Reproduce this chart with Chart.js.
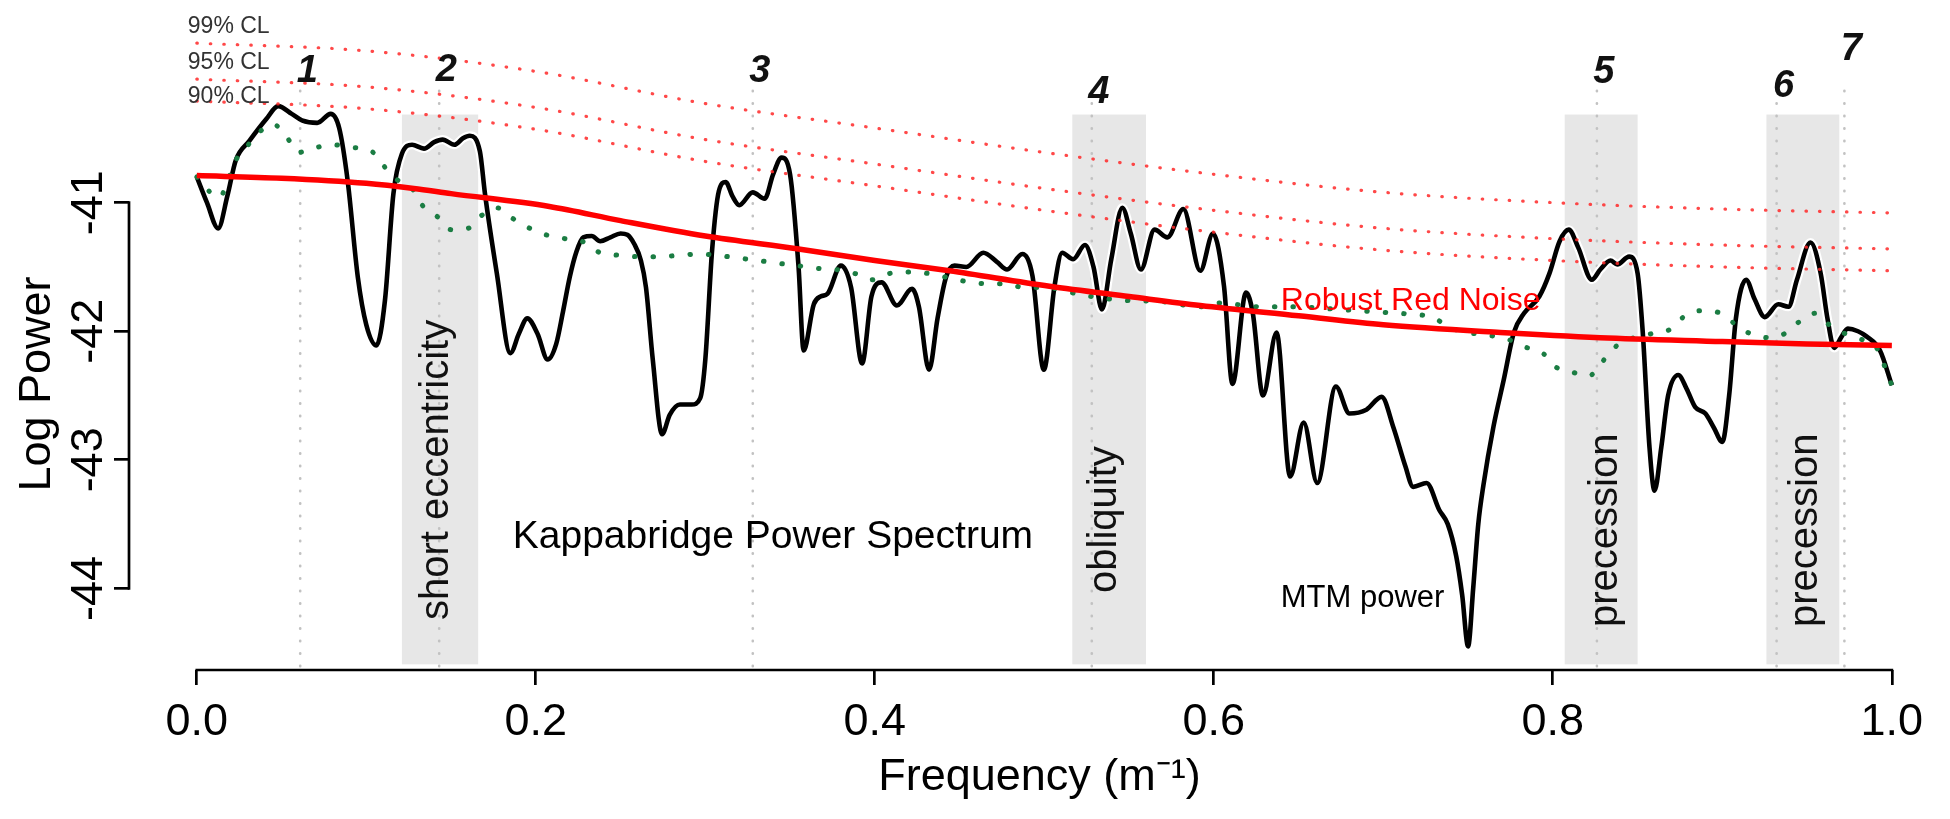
<!DOCTYPE html>
<html>
<head>
<meta charset="utf-8">
<script src="https://cdn.jsdelivr.net/npm/chart.js@4.4.1/dist/chart.umd.min.js"></script>
<style>
  html, body { margin: 0; padding: 0; background: #ffffff; }
  canvas { display: block; }
</style>
</head>
<body>
<canvas id="c" width="1950" height="819"></canvas>
<script>
// ---------------- data ----------------
const mtmFreq = [0, 0.006, 0.0126, 0.018, 0.023, 0.031, 0.041, 0.048, 0.056, 0.062,
  0.071, 0.079, 0.084, 0.089, 0.095, 0.100, 0.106, 0.111, 0.116, 0.121,
  0.127, 0.134, 0.140, 0.145, 0.152, 0.157, 0.161, 0.167, 0.170, 0.177,
  0.185, 0.190, 0.195, 0.201, 0.207, 0.212, 0.216, 0.220, 0.224, 0.228,
  0.233, 0.238, 0.244, 0.250, 0.254, 0.258, 0.262, 0.265, 0.269, 0.2745,
  0.279, 0.285, 0.292, 0.297, 0.300, 0.304, 0.308, 0.312, 0.316, 0.320,
  0.328, 0.335, 0.340, 0.345, 0.350, 0.355, 0.358, 0.364, 0.368, 0.372,
  0.380, 0.386, 0.3925, 0.398, 0.404, 0.413, 0.422, 0.426, 0.432, 0.437,
  0.442, 0.447, 0.454, 0.464, 0.472, 0.478, 0.487, 0.493, 0.4997, 0.506,
  0.5105, 0.517, 0.524, 0.529, 0.534, 0.5395, 0.546, 0.551, 0.557, 0.565,
  0.5726, 0.582, 0.592, 0.5995, 0.606, 0.611, 0.619, 0.623, 0.629, 0.637,
  0.645, 0.653, 0.661, 0.672, 0.680, 0.690, 0.699, 0.706, 0.713, 0.7176,
  0.7255, 0.733, 0.738, 0.743, 0.7465, 0.750, 0.753, 0.756, 0.759, 0.765,
  0.771, 0.777, 0.783, 0.792, 0.798, 0.804, 0.8094, 0.815, 0.823, 0.828,
  0.834, 0.838, 0.845, 0.850, 0.853, 0.857, 0.860, 0.864, 0.868, 0.874,
  0.879, 0.884, 0.890, 0.895, 0.900, 0.904, 0.908, 0.914, 0.919, 0.925,
  0.933, 0.939, 0.944, 0.952, 0.958, 0.962, 0.966, 0.970, 0.974, 0.980,
  0.985, 0.993, 1.000];
const mtmPower = [-40.80, -41.00, -41.20, -40.95, -40.67, -40.52, -40.35, -40.25, -40.31, -40.36,
  -40.38, -40.31, -40.42, -40.83, -41.58, -41.95, -42.11, -41.76, -40.93, -40.62,
  -40.55, -40.58, -40.53, -40.51, -40.55, -40.50, -40.48, -40.60, -40.93, -41.55,
  -42.17, -42.02, -41.90, -42.02, -42.22, -42.10, -41.85, -41.58, -41.38, -41.27,
  -41.26, -41.30, -41.27, -41.24, -41.25, -41.32, -41.45, -41.66, -42.22, -42.80,
  -42.65, -42.57, -42.57, -42.52, -42.22, -41.37, -40.91, -40.84, -40.95, -41.02,
  -40.92, -40.97, -40.78, -40.65, -40.78, -41.50, -42.15, -41.79, -41.73, -41.71,
  -41.49, -41.66, -42.25, -41.73, -41.62, -41.80, -41.67, -41.81, -42.30, -41.90,
  -41.58, -41.49, -41.50, -41.39, -41.46, -41.52, -41.40, -41.57, -42.30, -41.65,
  -41.39, -41.44, -41.33, -41.50, -41.83, -41.44, -41.04, -41.24, -41.52, -41.21,
  -41.27, -41.05, -41.53, -41.24, -41.65, -42.41, -41.70, -41.86, -42.50, -42.01,
  -43.13, -42.71, -43.18, -42.43, -42.64, -42.61, -42.51, -42.75, -43.05, -43.21,
  -43.18, -43.39, -43.50, -43.75, -44.05, -44.45, -44.00, -43.50, -43.20, -42.74,
  -42.38, -42.01, -41.86, -41.73, -41.55, -41.30, -41.21, -41.35, -41.60, -41.52,
  -41.45, -41.48, -41.42, -41.55, -42.00, -42.90, -43.24, -42.90, -42.50, -42.34,
  -42.45, -42.59, -42.64, -42.75, -42.86, -42.50, -41.90, -41.60, -41.75, -41.89,
  -41.79, -41.81, -41.60, -41.31, -41.55, -41.90, -42.13, -42.05, -41.98, -42.00,
  -42.04, -42.15, -42.42];

const smoothFreq = [0, 0.013, 0.023, 0.029, 0.045, 0.053, 0.060, 0.068, 0.080, 0.091,
  0.103, 0.110, 0.118, 0.127, 0.133, 0.142, 0.150, 0.160, 0.168, 0.177,
  0.186, 0.195, 0.206, 0.217, 0.229, 0.238, 0.250, 0.261, 0.273, 0.284,
  0.296, 0.307, 0.319, 0.331, 0.342, 0.354, 0.365, 0.377, 0.388, 0.398,
  0.409, 0.420, 0.431, 0.442, 0.4525, 0.465, 0.477, 0.488, 0.500, 0.523,
  0.547, 0.5695, 0.592, 0.604, 0.626, 0.648, 0.673, 0.696, 0.718, 0.729,
  0.739, 0.750, 0.761, 0.773, 0.783, 0.794, 0.802, 0.812, 0.821, 0.829,
  0.837, 0.848, 0.858, 0.870, 0.877, 0.888, 0.899, 0.907, 0.915, 0.927,
  0.938, 0.945, 0.955, 0.962, 0.971, 0.981, 0.990, 1.000];
const smoothPower = [-40.80, -40.96, -40.67, -40.57, -40.39, -40.49, -40.61, -40.58, -40.55, -40.57,
  -40.60, -40.71, -40.82, -40.89, -41.02, -41.11, -41.21, -41.20, -41.10, -41.04,
  -41.12, -41.19, -41.25, -41.28, -41.31, -41.39, -41.41, -41.42, -41.42, -41.41,
  -41.40, -41.41, -41.43, -41.45, -41.47, -41.49, -41.51, -41.52, -41.55, -41.60,
  -41.55, -41.54, -41.55, -41.58, -41.61, -41.63, -41.63, -41.66, -41.66, -41.72,
  -41.76, -41.77, -41.81, -41.78, -41.81, -41.81, -41.83, -41.85, -41.87, -41.89,
  -41.97, -42.01, -42.03, -42.06, -42.12, -42.17, -42.28, -42.32, -42.35, -42.24,
  -42.12, -42.05, -42.02, -41.98, -41.89, -41.84, -41.86, -41.94, -42.01, -42.05,
  -42.01, -41.93, -41.86, -41.94, -42.01, -42.06, -42.11, -42.42];

const redNoiseFreq = [0, 0.05, 0.10, 0.128, 0.15, 0.208, 0.25, 0.30, 0.355, 0.40,
  0.444, 0.503, 0.55, 0.592, 0.65, 0.70, 0.769, 0.828, 0.90, 0.95, 1.0];
const redNoisePower = [-40.79, -40.81, -40.85, -40.89, -40.93, -41.03, -41.14, -41.26, -41.36, -41.45,
  -41.53, -41.65, -41.73, -41.80, -41.88, -41.95, -42.01, -42.05, -42.08, -42.10, -42.11];

const clFreq = [0, 0.1, 0.2, 0.3, 0.4, 0.5, 0.6, 0.7, 0.8, 0.9, 1.0];
const cl99 = [-39.76, -39.82, -39.98, -40.23, -40.42, -40.61, -40.78, -40.92, -41.00, -41.05, -41.08];
const cl95 = [-40.04, -40.10, -40.26, -40.51, -40.70, -40.89, -41.06, -41.20, -41.28, -41.33, -41.36];
const cl90 = [-40.21, -40.27, -40.43, -40.68, -40.87, -41.06, -41.23, -41.37, -41.45, -41.50, -41.53];

const bandStart = [0.121, 0.5165, 0.807, 0.926];
const bandEnd   = [0.166, 0.560, 0.850, 0.969];
const bandLabels = ['short eccentricity', 'obliquity', 'precession', 'precession'];

const peakFreq   = [0.061, 0.143, 0.328, 0.528, 0.826, 0.932, 0.972];
const peakLabels = ['1', '2', '3', '4', '5', '6', '7'];

const xTicks = [0, 0.2, 0.4, 0.6, 0.8, 1.0];
const yTicks = [-44, -43, -42, -41];

// ---------------- layout / style ----------------
const FONT = "'Liberation Sans', Arial, Helvetica, sans-serif";
const X_MIN = -0.04, X_MAX = 1.0343, Y_MIN = -44.634, Y_MAX = -39.58;
const BAND_TOP = -40.315, BAND_BOTTOM = -44.59, VLINE_TOP = -40.13;

const pts = (xs, ys) => xs.map((x, i) => ({ x: x, y: ys[i] }));

function rotText(ctx, text, px, py, font, color) {
  ctx.save();
  ctx.translate(px, py);
  ctx.rotate(-Math.PI / 2);
  ctx.font = font;
  ctx.fillStyle = color;
  ctx.textAlign = 'left';
  ctx.textBaseline = 'alphabetic';
  ctx.fillText(text, 0, 0);
  ctx.restore();
}

const overlay = {
  id: 'overlay',
  beforeDatasetsDraw(chart) {
    const { ctx, scales: { x, y } } = chart;
    ctx.save();
    ctx.fillStyle = '#e7e7e7';
    for (let i = 0; i < bandStart.length; i++) {
      const x0 = x.getPixelForValue(bandStart[i]);
      const x1 = x.getPixelForValue(bandEnd[i]);
      const y0 = y.getPixelForValue(BAND_TOP);
      const y1 = y.getPixelForValue(BAND_BOTTOM);
      ctx.fillRect(x0, y0, x1 - x0, y1 - y0);
    }
    ctx.strokeStyle = '#c2c2c2';
    ctx.lineWidth = 2.6;
    ctx.lineCap = 'round';
    ctx.setLineDash([0.5, 12]);
    for (const f of peakFreq) {
      const px = x.getPixelForValue(f);
      ctx.beginPath();
      ctx.moveTo(px, y.getPixelForValue(VLINE_TOP));
      ctx.lineTo(px, y.getPixelForValue(Y_MIN));
      ctx.stroke();
    }
    ctx.restore();
  },
  afterDatasetsDraw(chart) {
    const { ctx, scales: { x, y } } = chart;
    ctx.save();
    // R-style axis lines spanning first..last tick
    ctx.strokeStyle = '#000';
    ctx.lineWidth = 2.7;
    ctx.setLineDash([]);
    ctx.lineCap = 'square';
    const yb = y.getPixelForValue(Y_MIN);
    ctx.beginPath();
    ctx.moveTo(x.getPixelForValue(xTicks[0]), yb);
    ctx.lineTo(x.getPixelForValue(xTicks[xTicks.length - 1]), yb);
    ctx.stroke();
    const xl = x.getPixelForValue(X_MIN);
    ctx.beginPath();
    ctx.moveTo(xl, y.getPixelForValue(yTicks[0]));
    ctx.lineTo(xl, y.getPixelForValue(yTicks[yTicks.length - 1]));
    ctx.stroke();

    // confidence level labels
    ctx.font = '23px ' + FONT;
    ctx.fillStyle = '#333';
    ctx.textAlign = 'left';
    ctx.textBaseline = 'middle';
    const clx = x.getPixelForValue(0) - 9;
    ctx.fillText('99% CL', clx, y.getPixelForValue(-39.63));
    ctx.fillText('95% CL', clx, y.getPixelForValue(-39.91));
    ctx.fillText('90% CL', clx, y.getPixelForValue(-40.175));

    // peak numbers
    const numY = [-39.98, -39.97, -39.98, -40.14, -39.99, -40.10, -39.81];
    ctx.font = 'italic bold 38px ' + FONT;
    ctx.fillStyle = '#111';
    ctx.textAlign = 'center';
    ctx.textBaseline = 'middle';
    peakFreq.forEach((f, i) => {
      ctx.fillText(peakLabels[i], x.getPixelForValue(f) + 7, y.getPixelForValue(numY[i]));
    });

    // band labels (rotated, reading upward)
    const bandLabelX = [0.1481, 0.5422, 0.8378, 0.9558];
    const bandLabelY = [-44.245, -44.035, -44.30, -44.30];
    bandLabels.forEach((t, i) => {
      rotText(ctx, t, x.getPixelForValue(bandLabelX[i]), y.getPixelForValue(bandLabelY[i]), '40px ' + FONT, '#111');
    });

    // free annotations
    ctx.textAlign = 'left';
    ctx.textBaseline = 'alphabetic';
    ctx.fillStyle = '#000';
    ctx.font = '39px ' + FONT;
    ctx.fillText('Kappabridge Power Spectrum', x.getPixelForValue(0.1864), y.getPixelForValue(-43.685));
    ctx.font = '31px ' + FONT;
    ctx.fillText('MTM power', x.getPixelForValue(0.6395), y.getPixelForValue(-44.144));
    ctx.fillStyle = '#ff0000';
    ctx.font = '32px ' + FONT;
    ctx.fillText('Robust Red Noise', x.getPixelForValue(0.6395), y.getPixelForValue(-41.833));

    // y axis title
    ctx.save();
    ctx.translate(50, 384);
    ctx.rotate(-Math.PI / 2);
    ctx.font = '45px ' + FONT;
    ctx.fillStyle = '#000';
    ctx.textAlign = 'center';
    ctx.textBaseline = 'alphabetic';
    ctx.fillText('Log Power', 0, 0);
    ctx.restore();

    ctx.restore();
  }
};

const tickGrid = { drawOnChartArea: false, drawTicks: true, tickLength: 15, lineWidth: 2.7, color: '#000' };

new Chart(document.getElementById('c'), {
  type: 'line',
  data: {
    datasets: [
      { label: '99% CL', data: pts(clFreq, cl99), borderColor: 'rgba(255,40,40,0.85)', borderWidth: 3.2,
        borderDash: [0.5, 13], borderCapStyle: 'round', order: 0 },
      { label: '95% CL', data: pts(clFreq, cl95), borderColor: 'rgba(255,40,40,0.85)', borderWidth: 3.2,
        borderDash: [0.5, 13], borderCapStyle: 'round', order: 0 },
      { label: '90% CL', data: pts(clFreq, cl90), borderColor: 'rgba(255,40,40,0.85)', borderWidth: 3.2,
        borderDash: [0.5, 13], borderCapStyle: 'round', order: 0 },
      { label: 'Robust Red Noise', data: pts(redNoiseFreq, redNoisePower), borderColor: '#ff0000',
        borderWidth: 5.5, borderCapStyle: 'butt', order: 1 },
      { label: 'Median smoothed', data: pts(smoothFreq, smoothPower), borderColor: '#1b7d43',
        borderWidth: 5, borderDash: [0.5, 18], borderCapStyle: 'round', order: 2 },
      { label: 'MTM power', data: pts(mtmFreq, mtmPower), borderColor: '#000000', borderWidth: 4.6, order: 3 },
      { label: 'MTM halo', data: pts(mtmFreq, mtmPower), borderColor: '#ffffff', borderWidth: 9, order: 4 }
    ]
  },
  options: {
    responsive: false,
    animation: false,
    devicePixelRatio: 1,
    layout: { padding: { top: 20, left: 0, right: 0, bottom: 0 } },
    elements: {
      point: { radius: 0, hoverRadius: 0 },
      line: { cubicInterpolationMode: 'monotone', borderJoinStyle: 'round', fill: false }
    },
    plugins: { legend: { display: false }, tooltip: { enabled: false } },
    scales: {
      x: {
        type: 'linear', min: X_MIN, max: X_MAX,
        afterBuildTicks: (s) => { s.ticks = xTicks.map(v => ({ value: v })); },
        afterFit: (s) => { s.height = 149; },
        ticks: { autoSkip: false, maxRotation: 0, minRotation: 0, padding: 11, color: '#000',
                 font: { size: 45, family: FONT }, callback: (v) => Number(v).toFixed(1) },
        grid: tickGrid,
        border: { display: false },
        title: { display: true, text: 'Frequency (m\u207B\u00B9)', color: '#000',
                 font: { size: 45, family: FONT }, padding: { top: 0, bottom: 14.6 } }
      },
      y: {
        type: 'linear', min: Y_MIN, max: Y_MAX,
        afterBuildTicks: (s) => { s.ticks = yTicks.map(v => ({ value: v })); },
        afterFit: (s) => { s.width = 129; },
        ticks: { minRotation: 90, maxRotation: 90, crossAlign: 'center', padding: -8.5, color: '#000',
                 font: { size: 45, family: FONT }, callback: (v) => String(v) },
        grid: tickGrid,
        border: { display: false }
      }
    }
  },
  plugins: [overlay]
});
</script>
</body>
</html>
